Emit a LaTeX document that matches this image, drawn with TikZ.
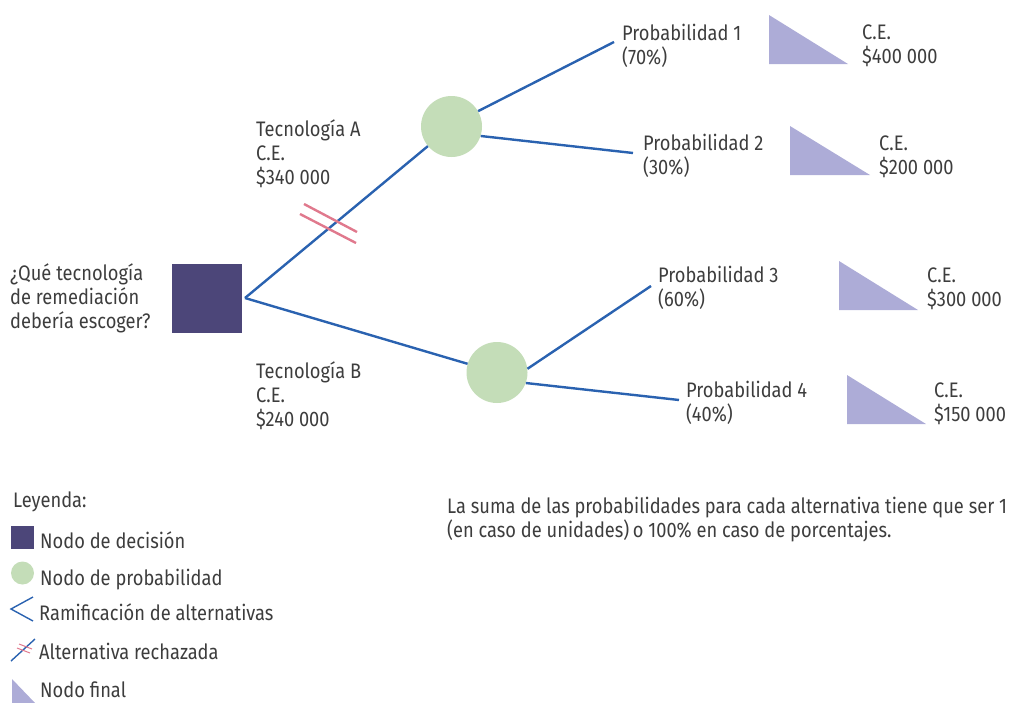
\documentclass[tikz,border=0pt]{standalone}
\usepackage{fontspec}
\setmainfont{Fira Sans}[FakeStretch=0.87]
\definecolor{branch}{HTML}{2A62B0}
\definecolor{decision}{HTML}{4C4679}
\definecolor{chance}{HTML}{C4DDB8}
\definecolor{terminal}{HTML}{ADACD7}
\definecolor{reject}{HTML}{E0798D}
\definecolor{ink}{HTML}{3D3D3D}
\begin{document}
\begin{tikzpicture}[x=1pt,y=-1pt,
  % base anchor of a multi-line label sits on its last line
  lbl/.style={anchor=base west, inner sep=0pt, align=left, text=ink,
    font=\fontsize{21}{24}\selectfont},
  branchline/.style={draw=branch, line width=2.4pt},
  rejectline/.style={draw=reject, line width=2.4pt},
  decnode/.style={fill=decision, minimum width=70pt, minimum height=69pt, inner sep=0pt},
  chnode/.style={circle, fill=chance, minimum size=61pt, inner sep=0pt},
  endshape/.style={fill=terminal},
]
\useasboundingbox (0,0) rectangle (1011,702);
\clip (0,0) rectangle (1011,702);

% decision and chance nodes
\node[decnode] (dec) at (206.5,298.5) {};
\coordinate (fork) at (245,298);
\node[chnode] (ca) at (451.5,126.5) {};
\node[chnode] (cb) at (497,372.5) {};

% branch end points
\coordinate (e1) at (614,42);
\coordinate (e2) at (633,153);
\coordinate (e3) at (651,286);
\coordinate (e4) at (679,400);

% branches
\draw[branchline] (fork) -- (ca);
\draw[branchline] (fork) -- (cb);
\draw[branchline] (ca.30) -- (e1);
\draw[branchline] (ca.-18) -- (e2);
\draw[branchline] (cb.7) -- (e3);
\draw[branchline] (cb.-20) -- (e4);

% rejected alternative mark
\draw[rejectline] (304,204) -- (357,232);
\draw[rejectline] (300,214) -- (356,243);

% end nodes
\fill[endshape] (769,15) -- (769,64) -- (848,64) -- cycle;
\fill[endshape] (790,126) -- (790,175) -- (870,175) -- cycle;
\fill[endshape] (839,261) -- (839,310) -- (918,310) -- cycle;
\fill[endshape] (847,375) -- (847,424) -- (926,424) -- cycle;

% labels
\node[lbl] (qt) at (10,328) {\fontsize{21}{20.5}\selectfont ¿Qué tecnología\\de remediación\\debería escoger?};
\node[lbl] (ta) at (256,184) {Tecnología A\\C.E.\\\$340 000};
\node[lbl] (tb) at (256,426) {Tecnología B\\C.E.\\\$240 000};
\node[lbl] (p1) at (622,64) {Probabilidad 1\\(70\%)};
\node[lbl] (p2) at (643,174) {Probabilidad 2\\(30\%)};
\node[lbl] (p3) at (658,306) {Probabilidad 3\\(60\%)};
\node[lbl] (p4) at (686,421) {Probabilidad 4\\(40\%)};
\node[lbl] (v1) at (862,63) {C.E.\\\$400 000};
\node[lbl] (v2) at (879,174) {C.E.\\\$200 000};
\node[lbl] (v3) at (927,306) {C.E.\\\$300 000};
\node[lbl] (v4) at (934,421) {C.E.\\\$150 000};

% note
\node[lbl] (note) at (447,537) {\fontsize{21}{21.5}\selectfont La suma de las probabilidades para cada alternativa tiene que ser 1\\(en caso de unidades)\,o 100\% en caso de porcentajes.};

% legend
\node[lbl] (leg) at (13,507) {Leyenda:};
\node[fill=decision, minimum size=23pt, inner sep=0pt] (legdec) at (22.5,537.5) {};
\node[lbl] (legdect) at (40,548) {Nodo de decisión};
\node[circle, fill=chance, minimum size=23pt, inner sep=0pt] (legch) at (22.5,573) {};
\node[lbl] (legcht) at (40,585) {Nodo de probabilidad};
\draw[draw=branch, line width=1.4pt] (33,597) -- (11,609) -- (33,621);
\node[lbl] (legbrt) at (39,620) {Ramificación de alternativas};
\draw[draw=branch, line width=1.4pt] (11,661) -- (35,639);
\draw[draw=reject, line width=1pt] (19,644) -- (32,649);
\draw[draw=reject, line width=1pt] (17,648) -- (30,653);
\node[lbl] (legrjt) at (39,659) {Alternativa rechazada};
\fill[endshape] (12,679) -- (12,704) -- (36,704) -- cycle;
\node[lbl] (legendt) at (40,697) {Nodo final};
\end{tikzpicture}
\end{document}
